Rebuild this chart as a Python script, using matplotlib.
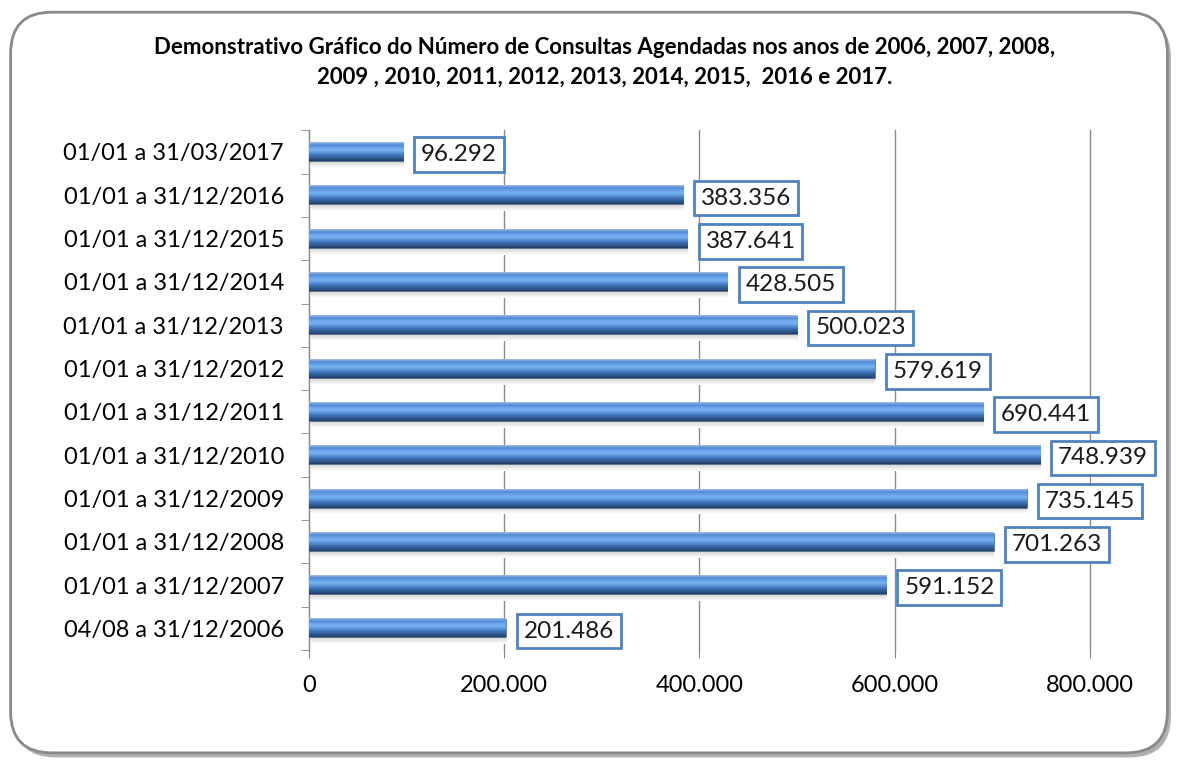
import matplotlib
matplotlib.use("Agg")
import matplotlib.pyplot as plt
from matplotlib.patches import FancyBboxPatch
from matplotlib.ticker import FuncFormatter, FixedLocator
import numpy as np

periodos = ['04/08 a 31/12/2006', '01/01 a 31/12/2007', '01/01 a 31/12/2008',
            '01/01 a 31/12/2009', '01/01 a 31/12/2010', '01/01 a 31/12/2011',
            '01/01 a 31/12/2012', '01/01 a 31/12/2013', '01/01 a 31/12/2014',
            '01/01 a 31/12/2015', '01/01 a 31/12/2016', '01/01 a 31/03/2017']
consultas = [201486, 591152, 701263, 735145, 748939, 690441,
             579619, 500023, 428505, 387641, 383356, 96292]
titulo = ('Demonstrativo Gráfico do Número de Consultas Agendadas nos anos de 2006, 2007, 2008,\n'
          '2009 , 2010, 2011, 2012, 2013, 2014, 2015,  2016 e 2017.')

plt.rcParams['font.family'] = ['Lato', 'DejaVu Sans']


def milhar(v, pos=None):
    return f'{int(v):,}'.replace(',', '.')


fig = plt.figure(figsize=(11.78, 7.62), dpi=100)

# moldura arredondada com sombra
sombra = FancyBboxPatch((0.012, 0.006), 0.982, 0.972, boxstyle='round,pad=0,rounding_size=0.035',
                        transform=fig.transFigure, facecolor='#b0b0b0', edgecolor='none',
                        mutation_aspect=1178 / 762, zorder=-2)
moldura = FancyBboxPatch((0.009, 0.012), 0.982, 0.972, boxstyle='round,pad=0,rounding_size=0.035',
                         transform=fig.transFigure, facecolor='white', edgecolor='#8a8a8a',
                         linewidth=2, mutation_aspect=1178 / 762, zorder=-1)
fig.patches.extend([sombra, moldura])

fig.text(0.513, 0.918, titulo, ha='center', va='center', fontsize=16,
         fontweight='bold', linespacing=1.55)

ax = fig.add_axes([0.2623, 0.147, 0.663, 0.682])
ax.set_zorder(1)
ax.set_facecolor('none')
y = np.arange(len(periodos))
barras = ax.barh(y, consultas, height=0.42, color='#4f81bd', zorder=3)

# efeito de cilindro: gradiente de baixo (escuro) para cima (claro)
cores = ['#213f66', '#2f5a92', '#3d70b4', '#5791d8', '#78b2f0', '#6aa5ea', '#4f8ad6', '#9dbbe0']
cmap = matplotlib.colors.LinearSegmentedColormap.from_list('azul', cores)
grad = np.linspace(0, 1, 40).reshape(-1, 1)
sombra_grad = np.linspace(0, 1, 20).reshape(-1, 1)
cmap_sombra = matplotlib.colors.LinearSegmentedColormap.from_list('sombra', ['#ffffff', '#d2d2d2'])
for b in barras:
    x0, y0, w, h = b.get_x(), b.get_y(), b.get_width(), b.get_height()
    ax.imshow(grad, cmap=cmap, aspect='auto', extent=(x0, x0 + w, y0, y0 + h),
              origin='lower', zorder=3, interpolation='bilinear')
    ax.imshow(sombra_grad, cmap=cmap_sombra, aspect='auto', extent=(x0, x0 + w, y0 - 0.16, y0),
              origin='lower', zorder=2, interpolation='bilinear', vmin=0, vmax=1)
    b.set_facecolor('none')
    b.set_edgecolor('#2c4d75')
    b.set_linewidth(0.5)

for yi, v in zip(y, consultas):
    ax.annotate(milhar(v), (v, yi), xytext=(13, -2), textcoords='offset points',
                ha='left', va='center', fontsize=17.5, color='#1a1a1a', zorder=5,
                bbox=dict(boxstyle='square,pad=0.28', facecolor='white',
                          edgecolor='#4f81bd', linewidth=2))

ax.set_xlim(0, 800000)
ax.set_ylim(-0.5, len(periodos) - 0.5)
ax.set_yticks(y)
ax.set_yticklabels(periodos, fontsize=17)
ax.yaxis.set_minor_locator(FixedLocator(np.arange(-0.5, len(periodos), 1)))
ax.tick_params(axis='y', which='major', length=0, pad=18)
ax.tick_params(axis='y', which='minor', length=6, color='#868686', direction='out')
ax.set_xticks([0, 200000, 400000, 600000, 800000])
ax.xaxis.set_major_formatter(FuncFormatter(milhar))
ax.tick_params(axis='x', length=6, color='#868686', labelsize=17, pad=12)
ax.grid(axis='x', color='#8c8c8c', linewidth=1, zorder=0)
for g in ax.xaxis.get_gridlines():
    g.set_clip_on(False)
for lado in ['top', 'right', 'bottom']:
    ax.spines[lado].set_visible(False)
ax.spines['left'].set_color('#868686')

fig.savefig('out.png', dpi=100)
